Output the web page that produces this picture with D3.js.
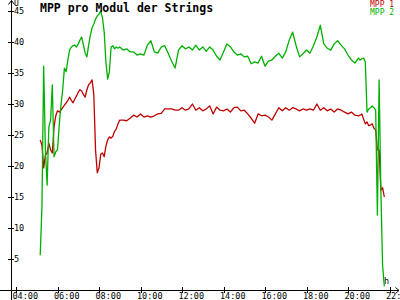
<!DOCTYPE html>
<html>
<head>
<meta charset="utf-8">
<script src="https://cdn.jsdelivr.net/npm/d3@7"></script>
<style>
body { margin:0; background:#fff; }
svg { display:block; }
text { font-family: "DejaVu Sans Mono", "Liberation Mono", monospace; fill:#000; }
</style>
</head>
<body>
<div id="chart"></div>
<script>
var times = [
    "05:10","05:15","05:20","05:25","05:30","05:35","05:40","05:45","05:50","05:55",
    "06:00","06:05","06:10","06:15","06:20","06:25","06:30","06:35","06:40","06:45","06:50","06:55",
    "07:00","07:05","07:10","07:15","07:20","07:25","07:30","07:35","07:40","07:45","07:50","07:55",
    "08:00","08:05","08:10","08:15","08:20","08:25","08:30","08:35","08:40","08:45","08:50","08:55",
    "09:00","09:10","09:20","09:30","09:40","09:50",
    "10:00","10:10","10:20","10:30","10:40","10:50",
    "11:00","11:10","11:20","11:30","11:40","11:50",
    "12:00","12:10","12:20","12:30","12:40","12:50",
    "13:00","13:10","13:20","13:30","13:40","13:50",
    "14:00","14:10","14:20","14:30","14:40","14:50",
    "15:00","15:10","15:20","15:30","15:40","15:50",
    "16:00","16:10","16:20","16:30","16:40","16:50",
    "17:00","17:10","17:20","17:30","17:40","17:50",
    "18:00","18:10","18:20","18:30","18:40","18:50",
    "19:00","19:10","19:20","19:30","19:40","19:50",
    "20:00","20:10","20:20","20:30",
    "20:35","20:40","20:45","20:50","20:55","21:00","21:05","21:10","21:15","21:20","21:25","21:30","21:35","21:40","21:45"
];

// MPP 1 (red)
var mpp1 = [
    24.2,23.4,19.7,21.8,22.1,23.7,22.6,22.1,26.3,28.1,
    28.9,28.7,29.0,29.4,29.8,30.2,30.6,31.1,30.6,30.2,30.8,31.3,
    31.9,32.3,32.1,31.5,31.1,32.3,33.1,33.4,33.9,31.5,22.6,18.9,
    19.7,21.9,22.1,21.5,23.2,24.2,24.7,24.5,24.8,25.6,26.0,26.8,
    27.4,27.4,27.3,27.7,28.2,27.9,
    28.4,27.9,28.1,27.9,28.1,28.4,
    28.5,29.2,29.2,29.2,29.0,29.0,
    29.4,29.0,29.2,30.0,29.0,29.4,
    28.9,29.2,29.7,28.4,29.5,29.0,
    28.9,29.2,28.7,29.4,29.5,28.9,
    29.0,28.4,27.7,26.9,28.4,28.1,
    28.2,27.9,27.4,28.4,29.4,28.9,
    29.4,29.0,29.4,29.2,28.9,29.2,
    29.0,29.2,29.0,30.0,29.0,29.4,
    28.9,29.2,28.7,29.2,29.0,28.7,
    28.4,28.7,28.2,28.1,
    28.2,28.4,27.6,26.8,27.1,26.5,26.6,26.8,26.1,25.8,22.6,22.6,16.1,16.5,15.0
];

// MPP 2 (green)
var mpp2 = [
    5.6,13.4,36.1,22.6,16.9,26.3,27.4,33.1,21.5,22.3,
    22.6,26.6,29.8,32.3,35.8,35.2,37.1,38.7,39.2,39.4,39.5,39.2,
    39.7,40.3,40.8,39.5,38.2,37.6,39.5,41.1,42.3,42.9,43.7,44.2,
    44.5,45.0,43.9,41.6,36.8,34.0,35.2,39.2,39.4,38.9,39.2,39.0,
    39.2,38.7,38.9,38.4,38.4,37.9,
    38.1,37.9,39.5,40.2,38.4,38.2,
    39.2,39.4,38.2,36.9,35.8,38.7,
    39.4,38.9,39.2,38.7,39.5,38.7,
    39.2,38.5,39.2,38.7,37.7,37.1,
    38.4,39.7,39.2,38.4,37.9,38.1,
    37.6,37.7,36.5,36.8,36.6,37.7,
    36.1,36.9,37.1,37.7,38.2,37.4,
    38.4,40.3,41.6,39.4,37.6,38.1,
    38.7,38.2,39.4,40.8,42.7,39.7,
    39.0,38.7,39.7,40.2,39.5,38.9,
    37.9,37.1,36.6,37.4,
    37.1,37.3,37.4,36.8,28.7,29.2,29.4,29.7,29.4,29.0,12.1,33.9,16.1,4.0,0.6
];

var series_names  = ["MPP 1", "MPP 2"];
var series_colors = ["#c00000", "#00b000"];
var y_ticks = [5, 10, 15, 20, 25, 30, 35, 40, 45];
var x_ticks = ["04:00","06:00","08:00","10:00","12:00","14:00","16:00","18:00","20:00","22:00"];

var chart_width  = 400;
var chart_height = 300;

function to_hours(s){
    var p = s.split(":");
    return +p[0] + p[1] / 60;
}

//Create SVG Element
var svg = d3.select("#chart")
    .append("svg")
    .attr("width", chart_width)
    .attr("height", chart_height);

svg.append("rect")
    .attr("width", chart_width)
    .attr("height", chart_height)
    .attr("fill", "#fff");

// Scales
var x_scale = d3.scaleLinear()
    .domain([to_hours(x_ticks[0]), to_hours(x_ticks[x_ticks.length - 1])])
    .range([16, 389.5]);

var y_scale = d3.scaleLinear()
    .domain([0, 45])
    .range([290, 11]);

// Axes
var y_axis = d3.axisRight(y_scale)
    .tickValues(y_ticks)
    .tickSize(3)
    .tickPadding(0);

var yg = svg.append("g")
    .attr("transform", "translate(11,0)")
    .call(y_axis);
yg.select(".domain").remove();
yg.selectAll(".tick line").attr("x1", -3).attr("stroke", "#000").attr("shape-rendering", "crispEdges");
yg.selectAll(".tick text").attr("font-size", "8.5px").attr("font-family", "DejaVu Sans Mono");

var x_axis = d3.axisBottom(x_scale)
    .tickValues(x_ticks.map(to_hours))
    .tickFormat(function(d, i){ return x_ticks[i]; })
    .tickSize(3)
    .tickPadding(0);

var xg = svg.append("g")
    .attr("transform", "translate(0,290)")
    .call(x_axis);
xg.select(".domain").remove();
xg.selectAll(".tick line").attr("y1", -3).attr("stroke", "#000").attr("shape-rendering", "crispEdges");
xg.selectAll(".tick text")
    .attr("font-size", "8.5px")
    .attr("font-family", "DejaVu Sans Mono")
    .attr("text-anchor", "start")
    .attr("x", -4);

// axis lines with arrows
svg.append("line").attr("x1", 11.5).attr("x2", 11.5).attr("y1", 0).attr("y2", 300)
    .attr("stroke", "#000").attr("shape-rendering", "crispEdges");
svg.append("line").attr("x1", 0).attr("x2", 399).attr("y1", 290.5).attr("y2", 290.5)
    .attr("stroke", "#000").attr("shape-rendering", "crispEdges");
svg.append("path").attr("d", "M8.5,4.5L11.5,0.5L14.5,4.5")
    .attr("fill", "none").attr("stroke", "#000");
svg.append("path").attr("d", "M395.5,287.5L399,290.5L395.5,293.5")
    .attr("fill", "none").attr("stroke", "#000");

svg.append("text").attr("x", 14).attr("y", 6).attr("font-size", "8px").text("U");
svg.append("text").attr("x", 384).attr("y", 283.5).attr("font-size", "8.5px").text("h");

// Lines
var line = d3.line()
    .x(function(d){ return x_scale(to_hours(d.t)); })
    .y(function(d){ return y_scale(d.v); });

[mpp1, mpp2].forEach(function(values, i){
    var pts = times.map(function(t, j){ return { t: t, v: values[j] }; });
    svg.append("path")
        .datum(pts)
        .attr("d", line)
        .attr("fill", "none")
        .attr("stroke", series_colors[i])
        .attr("stroke-width", 1.3)
        .attr("stroke-linejoin", "round");
});

// Title
svg.append("text")
    .attr("x", 40)
    .attr("y", 11.5)
    .attr("font-size", "11.5px")
    .attr("font-weight", "bold")
    .text("MPP pro Modul der Strings");

// Legend
svg.selectAll(".legend")
    .data(series_names)
    .enter()
    .append("text")
    .attr("class", "legend")
    .attr("x", 370)
    .attr("y", function(d, i){ return 7 + i * 8; })
    .attr("font-size", "8px")
    .style("fill", function(d, i){ return series_colors[i]; })
    .text(function(d){ return d; });
</script>
</body>
</html>
